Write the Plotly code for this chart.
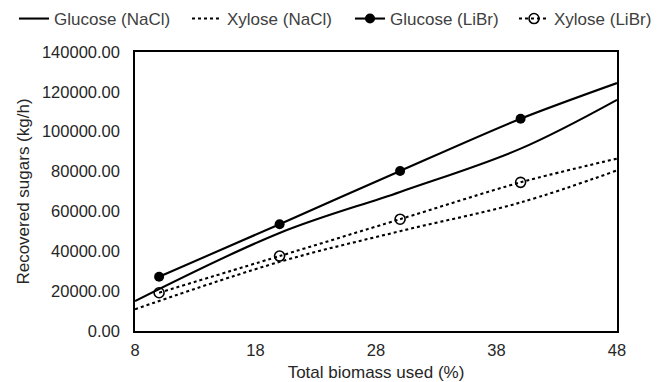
import plotly.graph_objects as go

# Data
x_nacl = [8, 20, 30, 40, 48]
glucose_nacl = [15000, 49200, 69800, 91500, 116000]
xylose_nacl = [10900, 34700, 50100, 64500, 80600]

x_libr = [10, 20, 30, 40, 48]
glucose_libr = [27200, 53600, 80300, 106500, 124400]
xylose_libr = [19200, 37600, 56100, 74600, 86500]

y_ticks = [0, 20000, 40000, 60000, 80000, 100000, 120000, 140000]
x_ticks = [8, 18, 28, 38, 48]

FONT = "Liberation Sans, Arial, sans-serif"
TXT = "#262626"
LEG = "#404040"

# the last LiBr point (axis end) carries no visible marker
marker_colors = ["black", "black", "black", "black", "rgba(0,0,0,0)"]

W, H = 657, 382
ML, MR, MT, MB = 135, 40, 52, 51
plot_w = W - ML - MR
plot_h = H - MT - MB
leg_y = (H - MB - 19) / plot_h

fig = go.Figure()
fig.add_trace(go.Scatter(
    x=x_nacl, y=glucose_nacl, name="Glucose (NaCl)", mode="lines",
    legend="legend", legendwidth=128,
    line=dict(color="black", width=2.1, shape="spline", smoothing=1.0)))
fig.add_trace(go.Scatter(
    x=x_nacl, y=xylose_nacl, name="Xylose (NaCl)", mode="lines",
    legend="legend",
    line=dict(color="black", width=2.1, dash="dot", shape="spline", smoothing=1.0)))
fig.add_trace(go.Scatter(
    x=x_libr, y=glucose_libr, name="Glucose (LiBr)", mode="lines+markers",
    legend="legend2", legendwidth=119,
    line=dict(color="black", width=2.1, shape="spline", smoothing=0.8),
    marker=dict(symbol="circle", size=10, color=marker_colors,
                line=dict(width=0))))
fig.add_trace(go.Scatter(
    x=x_libr, y=xylose_libr, name="Xylose (LiBr)", mode="lines+markers",
    legend="legend2",
    line=dict(color="black", width=2.1, dash="dot", shape="spline", smoothing=0.8),
    marker=dict(symbol="circle-open", size=10, color=marker_colors,
                line=dict(width=1.6))))

legend_common = dict(orientation="h", xanchor="left", xref="paper",
                     yref="paper", yanchor="middle", y=leg_y,
                     font=dict(size=17, family=FONT, color=LEG),
                     itemwidth=30, bgcolor="rgba(0,0,0,0)", borderwidth=0)

fig.update_layout(
    template="none",
    width=W, height=H,
    margin=dict(l=ML, r=MR, t=MT, b=MB, autoexpand=False),
    paper_bgcolor="white", plot_bgcolor="white",
    font=dict(family=FONT, color=TXT),
    showlegend=True,
    legend=dict(x=(14 - ML) / plot_w, **legend_common),
    legend2=dict(x=(350 - ML) / plot_w, **legend_common),
    xaxis=dict(range=[8, 48], tickvals=x_ticks, ticks="", showgrid=False,
               zeroline=False, showline=True, linecolor="black", linewidth=1.5,
               mirror=True, automargin=False, ticklabelstandoff=3,
               tickfont=dict(size=16.5, family=FONT, color=TXT),
               title=dict(text="Total biomass used (%)", standoff=10,
                          font=dict(size=17, family=FONT, color=TXT))),
    yaxis=dict(range=[0, 140000], tickvals=y_ticks, tickformat=".2f", ticks="",
               showgrid=False, zeroline=False, showline=True, linecolor="black",
               linewidth=1.5, mirror=True, automargin=False, ticklabelstandoff=10,
               tickfont=dict(size=16.5, family=FONT, color=TXT),
               title=dict(text="Recovered sugars (kg/h)", standoff=8,
                          font=dict(size=17, family=FONT, color=TXT))),
)

fig.write_html("out.html", config={"displayModeBar": False},
               post_script="document.body.style.margin='0';document.body.style.padding='0';")
